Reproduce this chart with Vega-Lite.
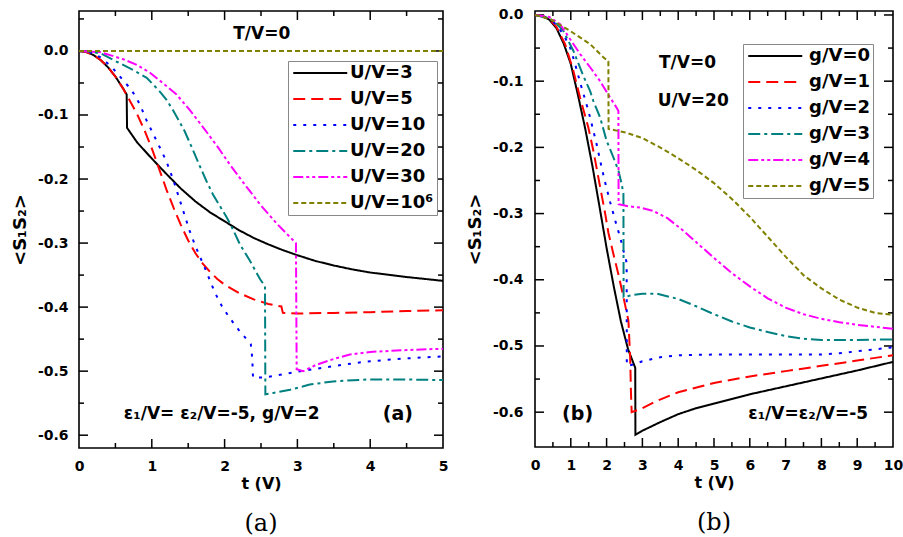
{
  "$schema": "https://vega.github.io/schema/vega-lite/v6.json",
  "background": "white",
  "padding": {"left": 10, "top": 7, "right": 4, "bottom": 4},
  "config": {
    "font": "DejaVu Sans",
    "view": {"stroke": "black", "strokeWidth": 1.6},
    "axis": {
      "domain": false, "grid": false, "ticks": false,
      "labelFont": "DejaVu Sans", "labelFontWeight": "bold", "labelFontSize": 14, "labelColor": "black",
      "titleFont": "DejaVu Sans", "titleFontWeight": "bold", "titleFontSize": 16, "titleColor": "black",
      "labelOverlap": false, "labelFlush": false
    },
    "legend": {
      "orient": "none", "title": null,
      "strokeColor": "#888888", "fillColor": "white", "padding": 3,
      "symbolType": "M-1,0H7", "symbolSize": 182.25, "symbolStrokeWidth": 2,
      "labelFont": "DejaVu Sans", "labelFontWeight": "bold", "labelFontSize": 18, "labelColor": "black",
      "labelOffset": 41, "rowPadding": 8
    },
    "title": {"font": "DejaVu Serif", "fontSize": 24, "fontWeight": "normal", "color": "black", "orient": "bottom", "anchor": "middle", "frame": "group"}
  },
  "datasets": {
    "a": [
      {"series": "U/V=3", "t": 0, "v": 0}, {"series": "U/V=3", "t": 0.1, "v": -0.0016}, {"series": "U/V=3", "t": 0.2, "v": -0.0064}, {"series": "U/V=3", "t": 0.3, "v": -0.0144}, {"series": "U/V=3", "t": 0.4, "v": -0.0256}, {"series": "U/V=3", "t": 0.5, "v": -0.04}, {"series": "U/V=3", "t": 0.6, "v": -0.0576}, {"series": "U/V=3", "t": 0.655, "v": -0.068}, {"series": "U/V=3", "t": 0.66, "v": -0.12}, {"series": "U/V=3", "t": 0.8, "v": -0.143}, {"series": "U/V=3", "t": 1.0, "v": -0.168}, {"series": "U/V=3", "t": 1.2, "v": -0.192}, {"series": "U/V=3", "t": 1.4, "v": -0.215}, {"series": "U/V=3", "t": 1.6, "v": -0.235}, {"series": "U/V=3", "t": 1.8, "v": -0.252}, {"series": "U/V=3", "t": 2.0, "v": -0.266}, {"series": "U/V=3", "t": 2.2, "v": -0.28}, {"series": "U/V=3", "t": 2.4, "v": -0.292}, {"series": "U/V=3", "t": 2.6, "v": -0.302}, {"series": "U/V=3", "t": 2.8, "v": -0.311}, {"series": "U/V=3", "t": 3.0, "v": -0.319}, {"series": "U/V=3", "t": 3.25, "v": -0.328}, {"series": "U/V=3", "t": 3.5, "v": -0.335}, {"series": "U/V=3", "t": 3.75, "v": -0.341}, {"series": "U/V=3", "t": 4.0, "v": -0.346}, {"series": "U/V=3", "t": 4.5, "v": -0.353}, {"series": "U/V=3", "t": 5.0, "v": -0.359},
      {"series": "U/V=5", "t": 0, "v": 0}, {"series": "U/V=5", "t": 0.1, "v": -0.0016}, {"series": "U/V=5", "t": 0.2, "v": -0.0064}, {"series": "U/V=5", "t": 0.3, "v": -0.0144}, {"series": "U/V=5", "t": 0.4, "v": -0.0256}, {"series": "U/V=5", "t": 0.5, "v": -0.04}, {"series": "U/V=5", "t": 0.6, "v": -0.0576}, {"series": "U/V=5", "t": 0.7, "v": -0.078}, {"series": "U/V=5", "t": 0.8, "v": -0.099}, {"series": "U/V=5", "t": 0.9, "v": -0.124}, {"series": "U/V=5", "t": 1.0, "v": -0.152}, {"series": "U/V=5", "t": 1.1, "v": -0.184}, {"series": "U/V=5", "t": 1.2, "v": -0.216}, {"series": "U/V=5", "t": 1.3, "v": -0.245}, {"series": "U/V=5", "t": 1.4, "v": -0.272}, {"series": "U/V=5", "t": 1.5, "v": -0.296}, {"series": "U/V=5", "t": 1.6, "v": -0.316}, {"series": "U/V=5", "t": 1.7, "v": -0.332}, {"series": "U/V=5", "t": 1.8, "v": -0.345}, {"series": "U/V=5", "t": 1.9, "v": -0.356}, {"series": "U/V=5", "t": 2.0, "v": -0.365}, {"series": "U/V=5", "t": 2.2, "v": -0.378}, {"series": "U/V=5", "t": 2.4, "v": -0.388}, {"series": "U/V=5", "t": 2.6, "v": -0.395}, {"series": "U/V=5", "t": 2.78, "v": -0.399}, {"series": "U/V=5", "t": 2.8, "v": -0.409}, {"series": "U/V=5", "t": 3.0, "v": -0.41}, {"series": "U/V=5", "t": 3.5, "v": -0.409}, {"series": "U/V=5", "t": 4.0, "v": -0.408}, {"series": "U/V=5", "t": 4.5, "v": -0.406}, {"series": "U/V=5", "t": 5.0, "v": -0.405},
      {"series": "U/V=10", "t": 0, "v": 0}, {"series": "U/V=10", "t": 0.15, "v": -0.002}, {"series": "U/V=10", "t": 0.3, "v": -0.01}, {"series": "U/V=10", "t": 0.45, "v": -0.025}, {"series": "U/V=10", "t": 0.6, "v": -0.045}, {"series": "U/V=10", "t": 0.7, "v": -0.058}, {"series": "U/V=10", "t": 0.79, "v": -0.073}, {"series": "U/V=10", "t": 0.86, "v": -0.09}, {"series": "U/V=10", "t": 0.93, "v": -0.109}, {"series": "U/V=10", "t": 1.0, "v": -0.125}, {"series": "U/V=10", "t": 1.09, "v": -0.146}, {"series": "U/V=10", "t": 1.2, "v": -0.172}, {"series": "U/V=10", "t": 1.3, "v": -0.203}, {"series": "U/V=10", "t": 1.41, "v": -0.242}, {"series": "U/V=10", "t": 1.52, "v": -0.281}, {"series": "U/V=10", "t": 1.59, "v": -0.302}, {"series": "U/V=10", "t": 1.66, "v": -0.321}, {"series": "U/V=10", "t": 1.73, "v": -0.339}, {"series": "U/V=10", "t": 1.8, "v": -0.359}, {"series": "U/V=10", "t": 1.87, "v": -0.378}, {"series": "U/V=10", "t": 1.96, "v": -0.398}, {"series": "U/V=10", "t": 2.07, "v": -0.417}, {"series": "U/V=10", "t": 2.19, "v": -0.435}, {"series": "U/V=10", "t": 2.3, "v": -0.45}, {"series": "U/V=10", "t": 2.36, "v": -0.458}, {"series": "U/V=10", "t": 2.38, "v": -0.48}, {"series": "U/V=10", "t": 2.39, "v": -0.51}, {"series": "U/V=10", "t": 2.53, "v": -0.51}, {"series": "U/V=10", "t": 2.7, "v": -0.507}, {"series": "U/V=10", "t": 2.9, "v": -0.503}, {"series": "U/V=10", "t": 3.04, "v": -0.5}, {"series": "U/V=10", "t": 3.5, "v": -0.492}, {"series": "U/V=10", "t": 3.95, "v": -0.485}, {"series": "U/V=10", "t": 4.5, "v": -0.48}, {"series": "U/V=10", "t": 5.0, "v": -0.477},
      {"series": "U/V=20", "t": 0, "v": 0}, {"series": "U/V=20", "t": 0.15, "v": -0.001}, {"series": "U/V=20", "t": 0.3, "v": -0.004}, {"series": "U/V=20", "t": 0.54, "v": -0.018}, {"series": "U/V=20", "t": 0.75, "v": -0.03}, {"series": "U/V=20", "t": 0.93, "v": -0.042}, {"series": "U/V=20", "t": 1.1, "v": -0.062}, {"series": "U/V=20", "t": 1.2, "v": -0.076}, {"series": "U/V=20", "t": 1.3, "v": -0.094}, {"series": "U/V=20", "t": 1.45, "v": -0.125}, {"series": "U/V=20", "t": 1.57, "v": -0.156}, {"series": "U/V=20", "t": 1.66, "v": -0.18}, {"series": "U/V=20", "t": 1.75, "v": -0.203}, {"series": "U/V=20", "t": 1.84, "v": -0.224}, {"series": "U/V=20", "t": 1.94, "v": -0.243}, {"series": "U/V=20", "t": 2.03, "v": -0.26}, {"series": "U/V=20", "t": 2.12, "v": -0.28}, {"series": "U/V=20", "t": 2.21, "v": -0.302}, {"series": "U/V=20", "t": 2.35, "v": -0.328}, {"series": "U/V=20", "t": 2.49, "v": -0.357}, {"series": "U/V=20", "t": 2.555, "v": -0.367}, {"series": "U/V=20", "t": 2.56, "v": -0.536}, {"series": "U/V=20", "t": 2.67, "v": -0.534}, {"series": "U/V=20", "t": 2.9, "v": -0.529}, {"series": "U/V=20", "t": 3.17, "v": -0.521}, {"series": "U/V=20", "t": 3.49, "v": -0.516}, {"series": "U/V=20", "t": 3.95, "v": -0.513}, {"series": "U/V=20", "t": 4.5, "v": -0.513}, {"series": "U/V=20", "t": 5.0, "v": -0.514},
      {"series": "U/V=30", "t": 0, "v": 0}, {"series": "U/V=30", "t": 0.3, "v": -0.002}, {"series": "U/V=30", "t": 0.61, "v": -0.013}, {"series": "U/V=30", "t": 0.8, "v": -0.022}, {"series": "U/V=30", "t": 0.975, "v": -0.034}, {"series": "U/V=30", "t": 1.15, "v": -0.05}, {"series": "U/V=30", "t": 1.34, "v": -0.068}, {"series": "U/V=30", "t": 1.52, "v": -0.092}, {"series": "U/V=30", "t": 1.71, "v": -0.12}, {"series": "U/V=30", "t": 1.9, "v": -0.149}, {"series": "U/V=30", "t": 2.07, "v": -0.177}, {"series": "U/V=30", "t": 2.26, "v": -0.206}, {"series": "U/V=30", "t": 2.49, "v": -0.24}, {"series": "U/V=30", "t": 2.72, "v": -0.27}, {"series": "U/V=30", "t": 2.85, "v": -0.285}, {"series": "U/V=30", "t": 2.98, "v": -0.3}, {"series": "U/V=30", "t": 2.99, "v": -0.497}, {"series": "U/V=30", "t": 3.08, "v": -0.5}, {"series": "U/V=30", "t": 3.26, "v": -0.49}, {"series": "U/V=30", "t": 3.5, "v": -0.481}, {"series": "U/V=30", "t": 3.72, "v": -0.474}, {"series": "U/V=30", "t": 4.0, "v": -0.47}, {"series": "U/V=30", "t": 4.5, "v": -0.467}, {"series": "U/V=30", "t": 5.0, "v": -0.465},
      {"series": "U/V=10⁶", "t": 0, "v": 0}, {"series": "U/V=10⁶", "t": 5, "v": 0}
    ],
    "b": [
      {"series": "g/V=0", "t": 0, "v": 0}, {"series": "g/V=0", "t": 0.2, "v": -0.002}, {"series": "g/V=0", "t": 0.4, "v": -0.007}, {"series": "g/V=0", "t": 0.6, "v": -0.02}, {"series": "g/V=0", "t": 0.8, "v": -0.043}, {"series": "g/V=0", "t": 1.0, "v": -0.074}, {"series": "g/V=0", "t": 1.2, "v": -0.121}, {"series": "g/V=0", "t": 1.4, "v": -0.171}, {"series": "g/V=0", "t": 1.6, "v": -0.227}, {"series": "g/V=0", "t": 1.8, "v": -0.289}, {"series": "g/V=0", "t": 2.0, "v": -0.352}, {"series": "g/V=0", "t": 2.2, "v": -0.41}, {"series": "g/V=0", "t": 2.4, "v": -0.463}, {"series": "g/V=0", "t": 2.6, "v": -0.505}, {"series": "g/V=0", "t": 2.8, "v": -0.533}, {"series": "g/V=0", "t": 2.805, "v": -0.634}, {"series": "g/V=0", "t": 3.0, "v": -0.628}, {"series": "g/V=0", "t": 3.5, "v": -0.615}, {"series": "g/V=0", "t": 4.0, "v": -0.603}, {"series": "g/V=0", "t": 4.5, "v": -0.594}, {"series": "g/V=0", "t": 5.0, "v": -0.587}, {"series": "g/V=0", "t": 6.0, "v": -0.573}, {"series": "g/V=0", "t": 7.0, "v": -0.561}, {"series": "g/V=0", "t": 8.0, "v": -0.549}, {"series": "g/V=0", "t": 9.0, "v": -0.537}, {"series": "g/V=0", "t": 10, "v": -0.524},
      {"series": "g/V=1", "t": 0, "v": 0}, {"series": "g/V=1", "t": 0.2, "v": -0.002}, {"series": "g/V=1", "t": 0.4, "v": -0.006}, {"series": "g/V=1", "t": 0.6, "v": -0.018}, {"series": "g/V=1", "t": 0.84, "v": -0.044}, {"series": "g/V=1", "t": 1.07, "v": -0.084}, {"series": "g/V=1", "t": 1.26, "v": -0.125}, {"series": "g/V=1", "t": 1.49, "v": -0.17}, {"series": "g/V=1", "t": 1.63, "v": -0.205}, {"series": "g/V=1", "t": 1.82, "v": -0.26}, {"series": "g/V=1", "t": 1.96, "v": -0.3}, {"series": "g/V=1", "t": 2.05, "v": -0.329}, {"series": "g/V=1", "t": 2.19, "v": -0.361}, {"series": "g/V=1", "t": 2.33, "v": -0.392}, {"series": "g/V=1", "t": 2.47, "v": -0.426}, {"series": "g/V=1", "t": 2.61, "v": -0.462}, {"series": "g/V=1", "t": 2.66, "v": -0.52}, {"series": "g/V=1", "t": 2.68, "v": -0.57}, {"series": "g/V=1", "t": 2.7, "v": -0.6}, {"series": "g/V=1", "t": 3.0, "v": -0.594}, {"series": "g/V=1", "t": 3.4, "v": -0.583}, {"series": "g/V=1", "t": 4.0, "v": -0.57}, {"series": "g/V=1", "t": 5.0, "v": -0.556}, {"series": "g/V=1", "t": 6.0, "v": -0.546}, {"series": "g/V=1", "t": 7.0, "v": -0.538}, {"series": "g/V=1", "t": 8.0, "v": -0.53}, {"series": "g/V=1", "t": 9.0, "v": -0.522}, {"series": "g/V=1", "t": 10, "v": -0.514},
      {"series": "g/V=2", "t": 0, "v": 0}, {"series": "g/V=2", "t": 0.4, "v": -0.005}, {"series": "g/V=2", "t": 0.6, "v": -0.015}, {"series": "g/V=2", "t": 0.8, "v": -0.03}, {"series": "g/V=2", "t": 0.98, "v": -0.049}, {"series": "g/V=2", "t": 1.1, "v": -0.07}, {"series": "g/V=2", "t": 1.26, "v": -0.102}, {"series": "g/V=2", "t": 1.45, "v": -0.137}, {"series": "g/V=2", "t": 1.54, "v": -0.155}, {"series": "g/V=2", "t": 1.72, "v": -0.195}, {"series": "g/V=2", "t": 1.86, "v": -0.23}, {"series": "g/V=2", "t": 1.96, "v": -0.253}, {"series": "g/V=2", "t": 2.1, "v": -0.283}, {"series": "g/V=2", "t": 2.28, "v": -0.318}, {"series": "g/V=2", "t": 2.38, "v": -0.336}, {"series": "g/V=2", "t": 2.47, "v": -0.356}, {"series": "g/V=2", "t": 2.56, "v": -0.374}, {"series": "g/V=2", "t": 2.565, "v": -0.53}, {"series": "g/V=2", "t": 2.75, "v": -0.528}, {"series": "g/V=2", "t": 3.0, "v": -0.523}, {"series": "g/V=2", "t": 3.5, "v": -0.517}, {"series": "g/V=2", "t": 4.0, "v": -0.514}, {"series": "g/V=2", "t": 5.0, "v": -0.513}, {"series": "g/V=2", "t": 6.0, "v": -0.513}, {"series": "g/V=2", "t": 7.0, "v": -0.513}, {"series": "g/V=2", "t": 8.0, "v": -0.513}, {"series": "g/V=2", "t": 8.5, "v": -0.511}, {"series": "g/V=2", "t": 9.0, "v": -0.508}, {"series": "g/V=2", "t": 9.5, "v": -0.505}, {"series": "g/V=2", "t": 10, "v": -0.502},
      {"series": "g/V=3", "t": 0, "v": 0}, {"series": "g/V=3", "t": 0.4, "v": -0.005}, {"series": "g/V=3", "t": 0.6, "v": -0.013}, {"series": "g/V=3", "t": 0.79, "v": -0.024}, {"series": "g/V=3", "t": 1.07, "v": -0.054}, {"series": "g/V=3", "t": 1.35, "v": -0.092}, {"series": "g/V=3", "t": 1.54, "v": -0.115}, {"series": "g/V=3", "t": 1.63, "v": -0.13}, {"series": "g/V=3", "t": 1.82, "v": -0.155}, {"series": "g/V=3", "t": 2.0, "v": -0.19}, {"series": "g/V=3", "t": 2.19, "v": -0.215}, {"series": "g/V=3", "t": 2.33, "v": -0.235}, {"series": "g/V=3", "t": 2.42, "v": -0.255}, {"series": "g/V=3", "t": 2.47, "v": -0.27}, {"series": "g/V=3", "t": 2.475, "v": -0.426}, {"series": "g/V=3", "t": 2.75, "v": -0.423}, {"series": "g/V=3", "t": 3.0, "v": -0.421}, {"series": "g/V=3", "t": 3.4, "v": -0.421}, {"series": "g/V=3", "t": 4.0, "v": -0.429}, {"series": "g/V=3", "t": 4.5, "v": -0.44}, {"series": "g/V=3", "t": 5.0, "v": -0.452}, {"series": "g/V=3", "t": 5.5, "v": -0.463}, {"series": "g/V=3", "t": 6.0, "v": -0.472}, {"series": "g/V=3", "t": 6.5, "v": -0.479}, {"series": "g/V=3", "t": 7.0, "v": -0.485}, {"series": "g/V=3", "t": 7.5, "v": -0.489}, {"series": "g/V=3", "t": 8.0, "v": -0.491}, {"series": "g/V=3", "t": 9.0, "v": -0.491}, {"series": "g/V=3", "t": 10, "v": -0.49},
      {"series": "g/V=4", "t": 0, "v": 0}, {"series": "g/V=4", "t": 0.4, "v": -0.003}, {"series": "g/V=4", "t": 0.7, "v": -0.014}, {"series": "g/V=4", "t": 0.89, "v": -0.029}, {"series": "g/V=4", "t": 1.26, "v": -0.059}, {"series": "g/V=4", "t": 1.54, "v": -0.079}, {"series": "g/V=4", "t": 1.82, "v": -0.1}, {"series": "g/V=4", "t": 2.1, "v": -0.125}, {"series": "g/V=4", "t": 2.28, "v": -0.14}, {"series": "g/V=4", "t": 2.33, "v": -0.145}, {"series": "g/V=4", "t": 2.335, "v": -0.286}, {"series": "g/V=4", "t": 2.6, "v": -0.289}, {"series": "g/V=4", "t": 2.94, "v": -0.291}, {"series": "g/V=4", "t": 3.3, "v": -0.296}, {"series": "g/V=4", "t": 3.7, "v": -0.307}, {"series": "g/V=4", "t": 4.1, "v": -0.324}, {"series": "g/V=4", "t": 4.5, "v": -0.343}, {"series": "g/V=4", "t": 5.0, "v": -0.367}, {"series": "g/V=4", "t": 5.5, "v": -0.39}, {"series": "g/V=4", "t": 6.0, "v": -0.41}, {"series": "g/V=4", "t": 6.5, "v": -0.428}, {"series": "g/V=4", "t": 7.0, "v": -0.442}, {"series": "g/V=4", "t": 7.5, "v": -0.452}, {"series": "g/V=4", "t": 8.0, "v": -0.459}, {"series": "g/V=4", "t": 8.5, "v": -0.464}, {"series": "g/V=4", "t": 9.0, "v": -0.468}, {"series": "g/V=4", "t": 9.5, "v": -0.471}, {"series": "g/V=4", "t": 10, "v": -0.474},
      {"series": "g/V=5", "t": 0, "v": 0}, {"series": "g/V=5", "t": 0.42, "v": -0.006}, {"series": "g/V=5", "t": 0.98, "v": -0.024}, {"series": "g/V=5", "t": 1.54, "v": -0.044}, {"series": "g/V=5", "t": 1.91, "v": -0.064}, {"series": "g/V=5", "t": 2.05, "v": -0.07}, {"series": "g/V=5", "t": 2.055, "v": -0.172}, {"series": "g/V=5", "t": 2.56, "v": -0.178}, {"series": "g/V=5", "t": 3.0, "v": -0.186}, {"series": "g/V=5", "t": 3.49, "v": -0.2}, {"series": "g/V=5", "t": 3.96, "v": -0.215}, {"series": "g/V=5", "t": 4.5, "v": -0.234}, {"series": "g/V=5", "t": 5.0, "v": -0.254}, {"series": "g/V=5", "t": 5.54, "v": -0.28}, {"series": "g/V=5", "t": 6.0, "v": -0.305}, {"series": "g/V=5", "t": 6.5, "v": -0.335}, {"series": "g/V=5", "t": 7.0, "v": -0.365}, {"series": "g/V=5", "t": 7.5, "v": -0.393}, {"series": "g/V=5", "t": 8.0, "v": -0.413}, {"series": "g/V=5", "t": 8.5, "v": -0.43}, {"series": "g/V=5", "t": 9.0, "v": -0.442}, {"series": "g/V=5", "t": 9.5, "v": -0.45}, {"series": "g/V=5", "t": 10, "v": -0.453}
    ],
    "ta": [{"label": "T/V=0", "t": 2.51, "v": 0.027}, {"label": "ε₁/V= ε₂/V=-5, g/V=2", "t": 1.96, "v": -0.567}],
    "ta3": [{"label": "(a)", "t": 4.38, "v": -0.567}],
    "tb": [{"label": "T/V=0", "t": 4.26, "v": -0.072}, {"label": "U/V=20", "t": 4.42, "v": -0.13}, {"label": "ε₁/V=ε₂/V=-5", "t": 7.63, "v": -0.602}],
    "tb3": [{"label": "(b)", "t": 1.19, "v": -0.602}],
    "xa_major": [{"t": 1}, {"t": 2}, {"t": 3}, {"t": 4}],
    "xa_minor": [{"t": 0.5}, {"t": 1.5}, {"t": 2.5}, {"t": 3.5}, {"t": 4.5}],
    "ya_major": [{"v": 0}, {"v": -0.1}, {"v": -0.2}, {"v": -0.3}, {"v": -0.4}, {"v": -0.5}, {"v": -0.6}],
    "ya_minor": [{"v": 0.05}, {"v": -0.05}, {"v": -0.15}, {"v": -0.25}, {"v": -0.35}, {"v": -0.45}, {"v": -0.55}],
    "xb_major": [{"t": 1}, {"t": 2}, {"t": 3}, {"t": 4}, {"t": 5}, {"t": 6}, {"t": 7}, {"t": 8}, {"t": 9}],
    "xb_minor": [{"t": 0.5}, {"t": 1.5}, {"t": 2.5}, {"t": 3.5}, {"t": 4.5}, {"t": 5.5}, {"t": 6.5}, {"t": 7.5}, {"t": 8.5}, {"t": 9.5}],
    "yb_major": [{"v": 0}, {"v": -0.1}, {"v": -0.2}, {"v": -0.3}, {"v": -0.4}, {"v": -0.5}, {"v": -0.6}],
    "yb_minor": [{"v": -0.05}, {"v": -0.15}, {"v": -0.25}, {"v": -0.35}, {"v": -0.45}, {"v": -0.55}]
  },
  "hconcat": [
    {
      "width": 364, "height": 437,
      "title": {"text": "(a)", "offset": 21},
      "layer": [
        {"data": {"name": "xa_major"}, "mark": {"type": "rule", "color": "black", "strokeWidth": 1.5, "opacity": 1}, "encoding": {"x": {"field": "t", "type": "quantitative", "axis": null}, "y": {"datum": -0.62, "type": "quantitative", "axis": null}, "y2": {"datum": -0.606}}},
        {"data": {"name": "xa_major"}, "mark": {"type": "rule", "color": "black", "strokeWidth": 1.5, "opacity": 1}, "encoding": {"x": {"field": "t", "type": "quantitative", "axis": null}, "y": {"datum": 0.0624, "type": "quantitative", "axis": null}, "y2": {"datum": 0.0484}}},
        {"data": {"name": "xa_minor"}, "mark": {"type": "rule", "color": "black", "strokeWidth": 1.5, "opacity": 1}, "encoding": {"x": {"field": "t", "type": "quantitative", "axis": null}, "y": {"datum": -0.62, "type": "quantitative", "axis": null}, "y2": {"datum": -0.6122}}},
        {"data": {"name": "xa_minor"}, "mark": {"type": "rule", "color": "black", "strokeWidth": 1.5, "opacity": 1}, "encoding": {"x": {"field": "t", "type": "quantitative", "axis": null}, "y": {"datum": 0.0624, "type": "quantitative", "axis": null}, "y2": {"datum": 0.0546}}},
        {"data": {"name": "ya_major"}, "mark": {"type": "rule", "color": "black", "strokeWidth": 1.5, "opacity": 1}, "encoding": {"y": {"field": "v", "type": "quantitative", "axis": null}, "x": {"datum": 0, "type": "quantitative", "axis": null}, "x2": {"datum": 0.1236}}},
        {"data": {"name": "ya_major"}, "mark": {"type": "rule", "color": "black", "strokeWidth": 1.5, "opacity": 1}, "encoding": {"y": {"field": "v", "type": "quantitative", "axis": null}, "x": {"datum": 5, "type": "quantitative", "axis": null}, "x2": {"datum": 4.8764}}},
        {"data": {"name": "ya_minor"}, "mark": {"type": "rule", "color": "black", "strokeWidth": 1.5, "opacity": 1}, "encoding": {"y": {"field": "v", "type": "quantitative", "axis": null}, "x": {"datum": 0, "type": "quantitative", "axis": null}, "x2": {"datum": 0.0687}}},
        {"data": {"name": "ya_minor"}, "mark": {"type": "rule", "color": "black", "strokeWidth": 1.5, "opacity": 1}, "encoding": {"y": {"field": "v", "type": "quantitative", "axis": null}, "x": {"datum": 5, "type": "quantitative", "axis": null}, "x2": {"datum": 4.9313}}},
        {
          "data": {"name": "ta"},
          "mark": {"type": "text", "font": "DejaVu Sans", "fontWeight": "bold", "fontSize": 17, "color": "black", "align": "center", "baseline": "middle"},
          "encoding": {
            "x": {"field": "t", "type": "quantitative", "axis": null},
            "y": {"field": "v", "type": "quantitative", "axis": null},
            "text": {"field": "label", "type": "nominal"}
          }
        },
        {
          "data": {"name": "ta3"},
          "mark": {"type": "text", "font": "DejaVu Sans", "fontWeight": "bold", "fontSize": 19, "color": "black", "align": "center", "baseline": "middle"},
          "encoding": {
            "x": {"field": "t", "type": "quantitative", "axis": null},
            "y": {"field": "v", "type": "quantitative", "axis": null},
            "text": {"field": "label", "type": "nominal"}
          }
        },
        {
          "data": {"name": "a"},
          "mark": {"type": "line", "strokeWidth": 2},
          "encoding": {
            "x": {"field": "t", "type": "quantitative", "scale": {"domain": [0, 5], "nice": false, "zero": false},
              "axis": {"orient": "bottom", "title": "t (V)", "values": [0, 1, 2, 3, 4, 5], "format": "d", "labelPadding": 11, "titlePadding": 2}},
            "y": {"field": "v", "type": "quantitative", "scale": {"domain": [-0.62, 0.0624], "nice": false, "zero": false},
              "axis": {"orient": "left", "title": "<S₁S₂>", "titleFontSize": 18, "values": [0, -0.1, -0.2, -0.3, -0.4, -0.5, -0.6],
                "labelExpr": "replace(replace(format(datum.value, '.1f'), '−', '-'), '\u2212', '-')",
                "labelPadding": 11, "titlePadding": 8}},
            "color": {"field": "series", "type": "nominal",
              "scale": {"domain": ["U/V=3", "U/V=5", "U/V=10", "U/V=20", "U/V=30", "U/V=10⁶"], "range": ["#000000", "#ff0000", "#0000ff", "#008080", "#ff00ff", "#808000"]},
              "legend": {"legendX": 209, "legendY": 50}},
            "strokeDash": {"field": "series", "type": "nominal",
              "scale": {"domain": ["U/V=3", "U/V=5", "U/V=10", "U/V=20", "U/V=30", "U/V=10⁶"], "range": [[1, 0], [12, 6], [3, 7], [12, 4, 3, 4], [10, 3, 3, 3, 3, 3], [5, 3]]},
              "legend": {"legendX": 209, "legendY": 50}}
          }
        }
      ],
      "resolve": {"axis": {"x": "independent", "y": "independent"}}
    },
    {
      "width": 358, "height": 436,
      "title": {"text": "(b)", "offset": 21},
      "layer": [
        {"data": {"name": "xb_major"}, "mark": {"type": "rule", "color": "black", "strokeWidth": 1.5, "opacity": 1}, "encoding": {"x": {"field": "t", "type": "quantitative", "axis": null}, "y": {"datum": -0.6526, "type": "quantitative", "axis": null}, "y2": {"datum": -0.639}}},
        {"data": {"name": "xb_major"}, "mark": {"type": "rule", "color": "black", "strokeWidth": 1.5, "opacity": 1}, "encoding": {"x": {"field": "t", "type": "quantitative", "axis": null}, "y": {"datum": 0.006, "type": "quantitative", "axis": null}, "y2": {"datum": -0.0076}}},
        {"data": {"name": "xb_minor"}, "mark": {"type": "rule", "color": "black", "strokeWidth": 1.5, "opacity": 1}, "encoding": {"x": {"field": "t", "type": "quantitative", "axis": null}, "y": {"datum": -0.6526, "type": "quantitative", "axis": null}, "y2": {"datum": -0.64505}}},
        {"data": {"name": "xb_minor"}, "mark": {"type": "rule", "color": "black", "strokeWidth": 1.5, "opacity": 1}, "encoding": {"x": {"field": "t", "type": "quantitative", "axis": null}, "y": {"datum": 0.006, "type": "quantitative", "axis": null}, "y2": {"datum": -0.00155}}},
        {"data": {"name": "yb_major"}, "mark": {"type": "rule", "color": "black", "strokeWidth": 1.5, "opacity": 1}, "encoding": {"y": {"field": "v", "type": "quantitative", "axis": null}, "x": {"datum": 0, "type": "quantitative", "axis": null}, "x2": {"datum": 0.2514}}},
        {"data": {"name": "yb_major"}, "mark": {"type": "rule", "color": "black", "strokeWidth": 1.5, "opacity": 1}, "encoding": {"y": {"field": "v", "type": "quantitative", "axis": null}, "x": {"datum": 10, "type": "quantitative", "axis": null}, "x2": {"datum": 9.7486}}},
        {"data": {"name": "yb_minor"}, "mark": {"type": "rule", "color": "black", "strokeWidth": 1.5, "opacity": 1}, "encoding": {"y": {"field": "v", "type": "quantitative", "axis": null}, "x": {"datum": 0, "type": "quantitative", "axis": null}, "x2": {"datum": 0.1397}}},
        {"data": {"name": "yb_minor"}, "mark": {"type": "rule", "color": "black", "strokeWidth": 1.5, "opacity": 1}, "encoding": {"y": {"field": "v", "type": "quantitative", "axis": null}, "x": {"datum": 10, "type": "quantitative", "axis": null}, "x2": {"datum": 9.8603}}},
        {
          "data": {"name": "tb"},
          "mark": {"type": "text", "font": "DejaVu Sans", "fontWeight": "bold", "fontSize": 17, "color": "black", "align": "center", "baseline": "middle"},
          "encoding": {
            "x": {"field": "t", "type": "quantitative", "axis": null},
            "y": {"field": "v", "type": "quantitative", "axis": null},
            "text": {"field": "label", "type": "nominal"}
          }
        },
        {
          "data": {"name": "tb3"},
          "mark": {"type": "text", "font": "DejaVu Sans", "fontWeight": "bold", "fontSize": 19, "color": "black", "align": "center", "baseline": "middle"},
          "encoding": {
            "x": {"field": "t", "type": "quantitative", "axis": null},
            "y": {"field": "v", "type": "quantitative", "axis": null},
            "text": {"field": "label", "type": "nominal"}
          }
        },
        {
          "data": {"name": "b"},
          "mark": {"type": "line", "strokeWidth": 2},
          "encoding": {
            "x": {"field": "t", "type": "quantitative", "scale": {"domain": [0, 10], "nice": false, "zero": false},
              "axis": {"orient": "bottom", "title": "t (V)", "values": [0, 1, 2, 3, 4, 5, 6, 7, 8, 9, 10], "format": "d", "labelPadding": 11, "titlePadding": 2}},
            "y": {"field": "v", "type": "quantitative", "scale": {"domain": [-0.6526, 0.006], "nice": false, "zero": false},
              "axis": {"orient": "left", "title": "<S₁S₂>", "titleFontSize": 18, "values": [0, -0.1, -0.2, -0.3, -0.4, -0.5, -0.6],
                "labelExpr": "replace(replace(format(datum.value, '.1f'), '−', '-'), '\u2212', '-')",
                "labelPadding": 12, "titlePadding": 8}},
            "color": {"field": "series", "type": "nominal",
              "scale": {"domain": ["g/V=0", "g/V=1", "g/V=2", "g/V=3", "g/V=4", "g/V=5"], "range": ["#000000", "#ff0000", "#0000ff", "#008080", "#ff00ff", "#808000"]},
              "legend": {"legendX": 208, "legendY": 33, "labelOffset": 45}},
            "strokeDash": {"field": "series", "type": "nominal",
              "scale": {"domain": ["g/V=0", "g/V=1", "g/V=2", "g/V=3", "g/V=4", "g/V=5"], "range": [[1, 0], [12, 6], [3, 7], [12, 4, 3, 4], [10, 3, 3, 3, 3, 3], [5, 3]]},
              "legend": {"legendX": 208, "legendY": 33, "labelOffset": 45}}
          }
        }
      ],
      "resolve": {"axis": {"x": "independent", "y": "independent"}}
    }
  ],
  "spacing": 16,
  "resolve": {"scale": {"x": "independent", "y": "independent", "color": "independent", "strokeDash": "independent"}}
}
